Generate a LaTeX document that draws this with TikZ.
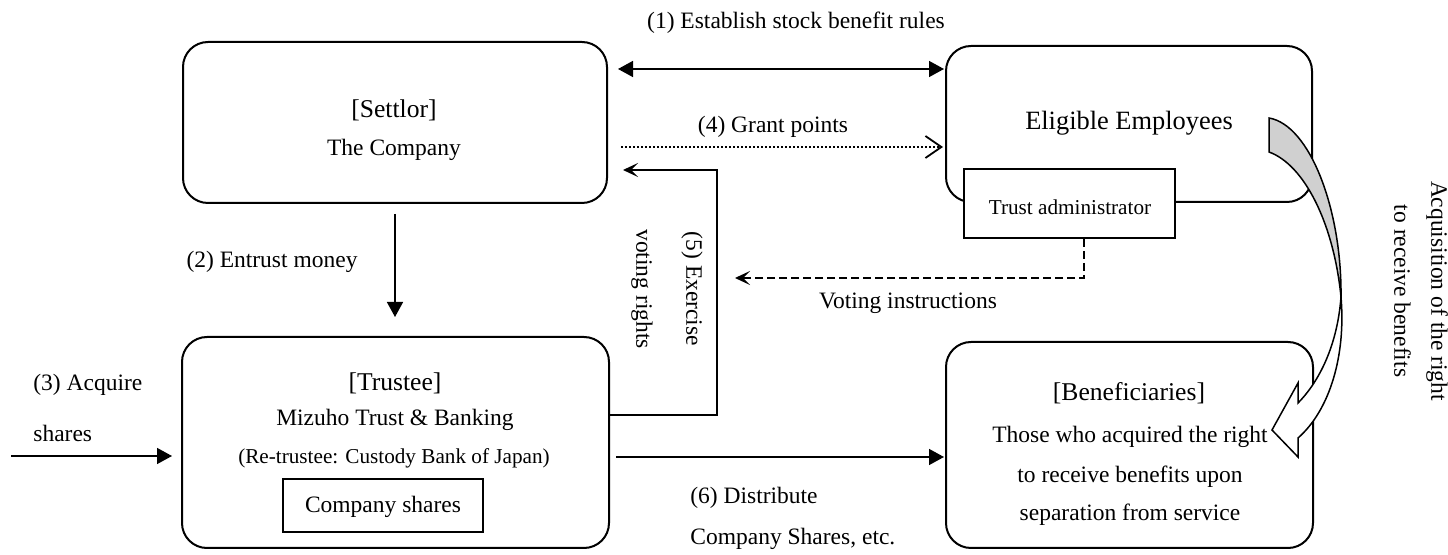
\documentclass[tikz,border=0pt]{standalone}
\usepackage{fontspec}
\setmainfont{Liberation Serif}
\usetikzlibrary{arrows.meta}
\definecolor{bandgray}{RGB}{208,208,208}
\begin{document}
\begin{tikzpicture}[x=0.5pt,y=-0.5pt,
  box/.style={draw,line width=1pt,rounded corners=12.5pt,inner sep=0pt},
  sqbox/.style={draw,line width=1pt,fill=white,inner sep=0pt},
  lbl/.style={font=\fontsize{11.75}{14}\selectfont,inner sep=0pt},
  title/.style={font=\fontsize{12.8}{15}\selectfont,inner sep=0pt},
  small/.style={font=\fontsize{10.6}{13}\selectfont,inner sep=0pt},
  big/.style={font=\fontsize{13.2}{16}\selectfont,inner sep=0pt},
  conn/.style={line width=0.75pt},
  solidtip/.style={-{Triangle[length=7.5pt,width=8pt]}},
  dbltip/.style={{Triangle[length=7.5pt,width=8pt]}-{Triangle[length=7.5pt,width=8pt]}},
  barbtip/.style={-{Straight Barb[length=8pt,width=11pt,line width=0.9pt]}},
  stealthtip/.style={-{Stealth[length=7.5pt,width=7pt,inset=3.5pt]}},
]
\useasboundingbox (0,0) rectangle (1448,555);

% boxes
\node[box,minimum width=212pt,minimum height=80.5pt] (settlor) at (395,122.5) {};
\node[title] (settlorT) at (394,110) {[Settlor]};
\node[lbl] (settlorC) at (394,150) {The Company};

\node[box,minimum width=183pt,minimum height=78pt] (eligible) at (1129,124) {};
\node[big] (eligT) at (1129,123) {Eligible Employees};
\node[sqbox,minimum width=105.5pt,minimum height=34.5pt] (trustadmin) at (1069.5,203.5) {};
\node[small] (trustadminT) at (1070,207) {Trust administrator};

\node[box,minimum width=213.5pt,minimum height=105.5pt] (trustee) at (395.5,442.5) {};
\node[title] (trusteeT) at (395,383) {[Trustee]};
\node[lbl] (mizuho) at (395,420) {Mizuho Trust \& Banking};
\node[small] (retrustee) at (394,458) {(Re-trustee: Custody Bank of Japan)};
\node[sqbox,minimum width=100pt,minimum height=26.5pt] (shares) at (383,505.5) {};
\node[lbl] (sharesT) at (383,507) {Company shares};

\node[box,minimum width=183.5pt,minimum height=103pt] (benef) at (1129.5,445) {};
\node[title] (benefT) at (1129,393) {[Beneficiaries]};
\node[lbl] (benef1) at (1130,437) {Those who acquired the right};
\node[lbl] (benef2) at (1130,477) {to receive benefits upon};
\node[lbl] (benef3) at (1130,515) {separation from service};

% (1) establish rules
\node[lbl] (l1) at (796,23) {(1) Establish stock benefit rules};
\draw[conn,dbltip,shorten <=5pt,shorten >=0.5pt] (settlor.east |- 0,69) -- (eligible.west |- 0,69);

% (4) grant points
\node[lbl] (l4) at (773,127) {(4) Grant points};
\draw[line width=1pt,dash pattern=on 1pt off 1pt,barbtip,shorten <=6.5pt,shorten >=1pt] (settlor.east |- 0,147) -- (eligible.west |- 0,147);

% (5) exercise voting rights
\coordinate (v5) at (717,170);
\draw[conn,stealthtip,shorten >=7.5pt] (trustee.east |- 0,415) -| (v5) -- (v5 -| settlor.east);
\node[lbl,rotate=-90,align=center,font=\fontsize{11.75}{25}\selectfont] (l5) at (667,289) {(5) Exercise\\voting rights};

% voting instructions
\coordinate (vi) at (1084,278);
\coordinate (vt) at (735,278);
\draw[conn,dash pattern=on 4pt off 2pt,stealthtip] (trustadmin.south -| vi) -- (vi) -- (vt);
\node[lbl] (lvi) at (908,303) {Voting instructions};

% (2) entrust money
\draw[conn,solidtip,shorten <=5pt,shorten >=9.5pt] (settlor.south) -- (trustee.north -| settlor.south);
\node[lbl] (l2) at (272,262) {(2) Entrust money};

% (3) acquire shares
\coordinate (src) at (11,456);
\draw[conn,solidtip,shorten >=4.5pt] (src) -- (trustee.west |- src);
\node[lbl,anchor=west] (l3a) at (33,385) {(3) Acquire};
\node[lbl,anchor=west] (l3b) at (33,433) {shares};

% (6) distribute
\draw[conn,solidtip,shorten <=3pt,shorten >=0.5pt] (trustee.east |- 0,457) -- (benef.west |- 0,457);
\node[lbl,anchor=west] (l6a) at (690,498) {(6) Distribute};
\node[lbl,anchor=west] (l6b) at (690,539) {Company Shares, etc.};

% curved arrow: acquisition of the right
\filldraw[fill=bandgray,line width=0.75pt]
  (1269,118) .. controls (1310,125) and (1342,210) .. (1341,297)
  .. controls (1334,225) and (1305,165) .. (1269,152) -- cycle;
\filldraw[fill=white,line width=0.75pt]
  (1341,297) .. controls (1337,350) and (1316,385) .. (1298,403)
  -- (1298,383) -- (1272,430) -- (1298,457) -- (1298,438)
  .. controls (1330,410) and (1346,355) .. (1341,297) -- cycle;
\node[lbl,rotate=-90,align=center,font=\fontsize{11.75}{18.5}\selectfont] (lacq) at (1421,291) {Acquisition of the right\\to receive benefits};
\end{tikzpicture}
\end{document}
